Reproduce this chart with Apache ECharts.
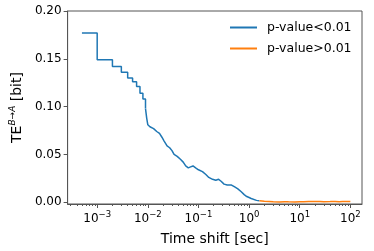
<!DOCTYPE html>
<html>
<head>
<meta charset="utf-8">
<script src="https://cdn.jsdelivr.net/npm/echarts@6/dist/echarts.min.js"></script>
<style>html,body{margin:0;padding:0;background:#fff}#c{width:374px;height:251px}</style>
</head>
<body>
<div id="c"></div>
<script>
// Time shift (sec) and TE values
var stepTimes = [0.0005, 0.001, 0.002, 0.003, 0.004, 0.005, 0.006, 0.007, 0.008, 0.009];
var stepTE    = [0.177, 0.149, 0.142, 0.136, 0.130, 0.126, 0.121, 0.114, 0.108, 0.098];

var sigTimes = [0.009, 0.0095, 0.010, 0.011, 0.013, 0.015, 0.017, 0.019, 0.021, 0.024, 0.027, 0.030, 0.033, 0.038, 0.044, 0.050, 0.056, 0.063, 0.070, 0.078, 0.088, 0.10, 0.12, 0.14, 0.16, 0.19, 0.22, 0.25, 0.28, 0.32, 0.37, 0.45, 0.52, 0.6, 0.7, 0.8, 0.9, 1.0, 1.1, 1.2, 1.4, 1.6];
var sigTE    = [0.098, 0.088, 0.081, 0.079, 0.077, 0.074, 0.072, 0.068, 0.064, 0.059, 0.057, 0.054, 0.050, 0.048, 0.045, 0.042, 0.038, 0.036, 0.037, 0.038, 0.036, 0.034, 0.032, 0.029, 0.026, 0.024, 0.023, 0.024, 0.022, 0.019, 0.018, 0.018, 0.016, 0.014, 0.011, 0.008, 0.006, 0.005, 0.004, 0.003, 0.002, 0.0015];

var nsTimes = [1.6, 2, 2.5, 3, 4, 5, 6, 8, 10, 12, 15, 20, 25, 30, 40, 50, 60, 70, 85, 100];
var nsTE    = [0.0015, 0.001, 0.0008, 0.0005, 0.0004, 0.0006, 0.0005, 0.0004, 0.0006, 0.0005, 0.0008, 0.0007, 0.0009, 0.0006, 0.0007, 0.0008, 0.0006, 0.0007, 0.0008, 0.0007];

var xMajorExp = [-3, -2, -1, 0, 1, 2];
var yTicks = [0, 0.05, 0.10, 0.15, 0.20];

function toPts(t, v) { return t.map(function (x, i) { return [Math.log10(x), v[i]]; }); }
var minor = [];
for (var e = -4; e <= 2; e++) for (var k = 2; k <= 9; k++) {
  var lv = Math.log10(k) + e;
  if (lv > -3.584 && lv < 2.23) minor.push(lv);
}
var BLUE = '#1f77b4', ORANGE = '#ff7f0e', FRAME = '#555';
var FONT = 'DejaVu Sans';

var chart = echarts.init(document.getElementById('c'), null, {renderer: 'canvas'});
chart.setOption({
  animation: false,
  textStyle: {fontFamily: FONT},
  grid: {left: 60, right: 12, top: 11, bottom: 44, show: true, borderColor: FRAME, borderWidth: 1, backgroundColor: 'transparent'},
  legend: {
    left: 230, top: 21, padding: 0, itemWidth: 27, itemHeight: 2, itemGap: 8,
    icon: 'rect',
    textStyle: {fontFamily: FONT, fontSize: 12.5, color: '#000', padding: [0, 0, 0, 5]},
    data: [{name: 'p-value<0.01', itemStyle: {color: BLUE}}, {name: 'p-value>0.01', itemStyle: {color: ORANGE}}]
  },
  xAxis: [{
    type: 'value', min: -3.584, max: 2.23,
    name: 'Time shift [sec]', nameLocation: 'middle', nameGap: 28,
    nameTextStyle: {fontFamily: FONT, fontSize: 14, color: '#000'},
    axisLine: {show: true, onZero: false, lineStyle: {color: FRAME}},
    splitLine: {show: false},
    axisTick: {show: true, length: 4, customValues: xMajorExp, lineStyle: {color: FRAME}},
    axisLabel: {
      customValues: xMajorExp, margin: 6,
      formatter: function (v) { var n = Math.round(v); return '{b|10}{s|' + (n < 0 ? '\u2212' + (-n) : n) + '}'; },
      rich: {b: {fontFamily: FONT, fontSize: 12, color: '#000', verticalAlign: 'bottom'}, s: {fontFamily: FONT, fontSize: 8.5, color: '#000', verticalAlign: 'bottom', padding: [0, 0, 6, 0]}}
    }
  }, {
    type: 'value', min: -3.584, max: 2.23, position: 'bottom',
    axisLine: {show: false, onZero: false}, splitLine: {show: false},
    axisTick: {show: true, length: 2, customValues: minor, lineStyle: {color: FRAME}},
    axisLabel: {show: false}
  }],
  yAxis: {
    type: 'value', min: -0.0018, max: 0.2,
    name: '{m|TE}{s|B\u2192A}{m| [bit]}', nameLocation: 'middle', nameGap: 39, nameRotate: 90,
    nameTextStyle: {
      rich: {m: {fontFamily: FONT, fontSize: 14, color: '#000', verticalAlign: 'bottom'}, s: {fontFamily: FONT, fontSize: 9, fontStyle: 'italic', color: '#000', verticalAlign: 'bottom', padding: [0, 0, 7, 0]}}
    },
    axisLine: {show: true, onZero: false, lineStyle: {color: FRAME}},
    splitLine: {show: false},
    axisTick: {show: true, length: 4, customValues: yTicks, lineStyle: {color: FRAME}},
    axisLabel: {customValues: yTicks, margin: 6, fontFamily: FONT, fontSize: 12, color: '#000', formatter: function (v) { return v.toFixed(2); }}
  },
  series: [{
    name: 'p-value<0.01', type: 'line', step: 'end', symbol: 'none', data: toPts(stepTimes, stepTE),
    lineStyle: {color: BLUE, width: 1.5}, itemStyle: {color: BLUE}
  }, {
    name: 'p-value<0.01', type: 'line', symbol: 'none', data: toPts(sigTimes, sigTE),
    lineStyle: {color: BLUE, width: 1.5}, itemStyle: {color: BLUE}
  }, {
    name: 'p-value>0.01', type: 'line', symbol: 'none', data: toPts(nsTimes, nsTE),
    lineStyle: {color: ORANGE, width: 1.5}, itemStyle: {color: ORANGE}
  }]
});
</script>
</body>
</html>
